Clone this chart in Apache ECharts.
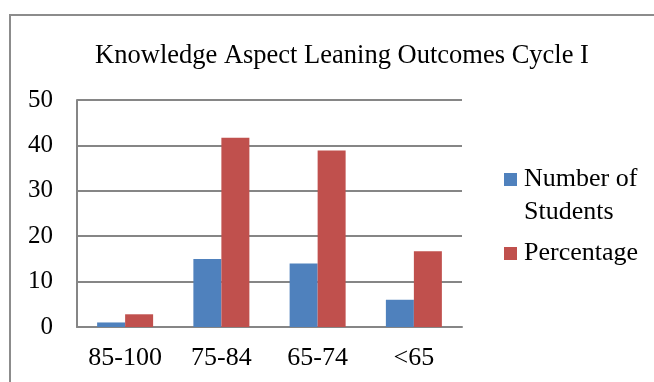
<!DOCTYPE html>
<html><head><meta charset="utf-8">
<script src="https://cdn.jsdelivr.net/npm/echarts@6/dist/echarts.min.js"></script>
<style>html,body{margin:0;padding:0;background:#fff}#c{width:654px;height:382px}</style>
</head><body><div id="c"></div>
<script>
const categories = ['85-100', '75-84', '65-74', '<65'];
const students = [1, 15, 14, 6];
const percentage = [2.8, 41.7, 38.9, 16.7];
const yTicks = [0, 10, 20, 30, 40, 50];
const seriesNames = ['Number of Students', 'Percentage'];

const font = '"Liberation Serif", "Times New Roman", serif';
const chart = echarts.init(document.getElementById('c'), null, {renderer: 'canvas'});
chart.setOption({
  animation: false,
  backgroundColor: '#fff',
  title: {
    text: 'Knowledge Aspect Leaning Outcomes Cycle I',
    left: 337, top: 38, textAlign: 'center',
    textStyle: {fontFamily: font, fontSize: 26.5, fontWeight: 'normal', color: '#000'}
  },
  graphic: [{
    type: 'rect', silent: true,
    shape: {x: 10, y: 15, width: 700, height: 420},
    style: {fill: 'none', stroke: '#8c8c8c', lineWidth: 2}
  }, {
    type: 'text', silent: true, left: 524, top: 199,
    style: {text: 'Students', font: '26px ' + font, fill: '#000'}
  }],
  legend: {
    orient: 'vertical', left: 504, top: 164, padding: 0,
    itemWidth: 13, itemHeight: 13, itemGap: 43,
    icon: 'rect',
    data: seriesNames,
    formatter: function (n) { return n === 'Number of Students' ? 'Number of' : n; },
    textStyle: {fontFamily: font, fontSize: 26, color: '#000', lineHeight: 31, padding: [0, 0, 0, 2]}
  },
  grid: {left: 77, top: 100, right: 192, bottom: 55, containLabel: false},
  xAxis: {
    type: 'category', data: categories,
    axisLine: {lineStyle: {color: '#868686', width: 2}},
    axisTick: {show: false},
    axisLabel: {fontFamily: font, fontSize: 26, color: '#000', margin: 18}
  },
  yAxis: {
    type: 'value', min: 0, max: 50, interval: 10,
    axisLine: {show: true, lineStyle: {color: '#868686', width: 2}},
    axisTick: {show: false},
    splitLine: {lineStyle: {color: '#868686', width: 2}},
    axisLabel: {fontFamily: font, fontSize: 25, color: '#000', margin: 24,
      formatter: v => yTicks.includes(v) ? String(v) : ''}
  },
  series: [
    {name: seriesNames[0], type: 'bar', data: students, barWidth: 28, barGap: '0%',
     itemStyle: {color: '#4F81BD'}},
    {name: seriesNames[1], type: 'bar', data: percentage, barWidth: 28, barGap: '0%',
     itemStyle: {color: '#C0504D'}}
  ]
});
</script></body></html>
